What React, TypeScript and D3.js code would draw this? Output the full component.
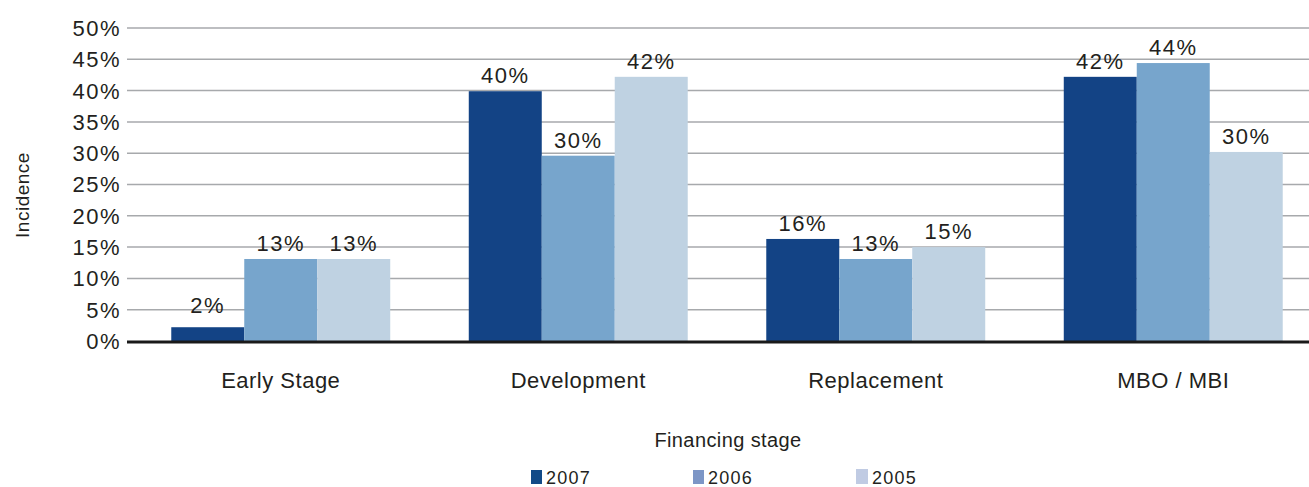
import React, { useEffect, useRef } from 'react';
import * as d3 from 'd3';

const categories = ['Early Stage', 'Development', 'Replacement', 'MBO / MBI'];
const years = ['2007', '2006', '2005'];
const values2007 = [2.2, 39.9, 16.3, 42.2];
const values2006 = [13.1, 29.6, 13.1, 44.4];
const values2005 = [13.1, 42.2, 15.0, 30.2];
const yTicks = [0, 5, 10, 15, 20, 25, 30, 35, 40, 45, 50];
const barColors = ['#134385', '#77a5cc', '#bfd2e2'];
const legendColors = ['#124a87', '#7d96c6', '#c0cbe3'];

const W = 1309;
const H = 487;
const FONT = '"Liberation Sans", Arial, sans-serif';
const INK = '#231f20';

export default function App() {
  const svgRef = useRef<SVGSVGElement>(null);

  useEffect(() => {
    document.body.style.margin = '0';
    document.body.style.overflow = 'hidden';
    if (!svgRef.current) return;
    const svg = d3.select(svgRef.current);
    svg.selectAll('*').remove();

    const series = [values2007, values2006, values2005];
    const gridLeft = 127;
    const gridRight = 1309;

    const y = d3.scaleLinear().domain([0, 50]).range([341, 28]);
    const x0 = d3.scaleBand<string>()
      .domain(categories)
      .range([132, 1322])
      .paddingInner(0.264)
      .paddingOuter(0.132);
    const x1 = d3.scaleBand<string>()
      .domain(years)
      .range([0, x0.bandwidth()]);

    // gridlines
    svg.append('g')
      .selectAll('line')
      .data(yTicks.filter(t => t > 0))
      .join('line')
      .attr('x1', gridLeft)
      .attr('x2', gridRight)
      .attr('y1', d => y(d))
      .attr('y2', d => y(d))
      .attr('stroke', '#a7a9ac')
      .attr('stroke-width', 1.5);

    // tick labels
    svg.append('g')
      .selectAll('text')
      .data(yTicks)
      .join('text')
      .attr('x', 121)
      .attr('y', d => y(d))
      .attr('dy', '0.36em')
      .attr('text-anchor', 'end')
      .attr('font-family', FONT)
      .attr('font-size', 22)
      .attr('letter-spacing', 1.5)
      .attr('fill', INK)
      .text(d => `${d}%`);

    // bars
    const groups = svg.append('g')
      .selectAll('g')
      .data(categories)
      .join('g')
      .attr('transform', d => `translate(${x0(d)},0)`);

    groups.selectAll('rect')
      .data((c, ci) => years.map((yr, si) => ({ yr, si, v: series[si][ci] })))
      .join('rect')
      .attr('x', d => x1(d.yr)!)
      .attr('width', x1.bandwidth())
      .attr('y', d => y(d.v))
      .attr('height', d => y(0) - y(d.v))
      .attr('fill', d => barColors[d.si]);

    groups.selectAll('text')
      .data((c, ci) => years.map((yr, si) => ({ yr, si, v: series[si][ci] })))
      .join('text')
      .attr('x', d => x1(d.yr)! + x1.bandwidth() / 2)
      .attr('y', d => y(d.v) - (d.v < 5 ? 14 : 8))
      .attr('text-anchor', 'middle')
      .attr('font-family', FONT)
      .attr('font-size', 22)
      .attr('letter-spacing', 1.5)
      .attr('fill', INK)
      .text(d => `${Math.round(d.v)}%`);

    // baseline
    svg.append('line')
      .attr('x1', gridLeft)
      .attr('x2', gridRight)
      .attr('y1', y(0) + 1)
      .attr('y2', y(0) + 1)
      .attr('stroke', '#1a1a1a')
      .attr('stroke-width', 3);

    // category labels
    svg.append('g')
      .selectAll('text')
      .data(categories)
      .join('text')
      .attr('x', d => x0(d)! + x0.bandwidth() / 2)
      .attr('y', 388)
      .attr('text-anchor', 'middle')
      .attr('font-family', FONT)
      .attr('font-size', 22)
      .attr('letter-spacing', 0.5)
      .attr('fill', INK)
      .text(d => d);

    // axis titles
    svg.append('text')
      .attr('transform', 'translate(29,195) rotate(-90)')
      .attr('text-anchor', 'middle')
      .attr('font-family', FONT)
      .attr('font-size', 19)
      .attr('letter-spacing', 0.5)
      .attr('fill', INK)
      .text('Incidence');

    svg.append('text')
      .attr('x', 728)
      .attr('y', 447)
      .attr('text-anchor', 'middle')
      .attr('font-family', FONT)
      .attr('font-size', 20)
      .attr('letter-spacing', 0.4)
      .attr('fill', INK)
      .text('Financing stage');

    // legend
    const legendX = [531, 693, 856];
    const legend = svg.append('g')
      .selectAll('g')
      .data(years)
      .join('g')
      .attr('transform', (d, i) => `translate(${legendX[i]},0)`);
    legend.append('rect')
      .attr('x', 0)
      .attr('width', (d, i) => (i === 2 ? 12 : 11))
      .attr('height', (d, i) => (i === 2 ? 15 : 14))
      .attr('y', (d, i) => (i === 2 ? 469 : 470))
      .attr('fill', (d, i) => legendColors[i]);
    legend.append('text')
      .attr('x', (d, i) => (i === 2 ? 16 : 15))
      .attr('y', 484)
      .attr('font-family', FONT)
      .attr('font-size', 18)
      .attr('letter-spacing', 1.2)
      .attr('fill', INK)
      .text(d => d);
  }, []);

  return (
    <svg ref={svgRef} width={W} height={H} style={{ display: 'block', background: '#fff' }} />
  );
}
